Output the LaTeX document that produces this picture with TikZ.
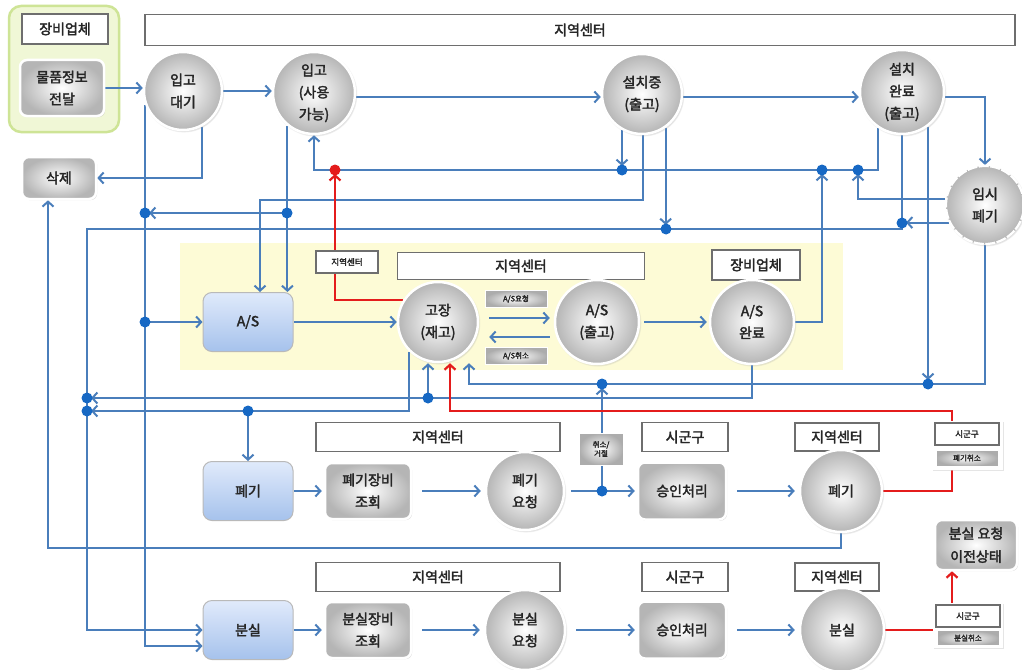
\documentclass[tikz,border=0pt]{standalone}
\usepackage{fontspec}
\newfontfamily\kr[AutoFakeBold=2.5]{Noto Sans CJK KR}
\usetikzlibrary{arrows.meta,shadows}
\newcommand\myfs[2]{\fontsize{#1}{#2}\selectfont}
\definecolor{lblue}{RGB}{74,126,187}
\definecolor{dotc}{RGB}{22,104,196}
\definecolor{lred}{RGB}{228,28,28}
\definecolor{yel}{RGB}{253,251,214}
\definecolor{grpf}{RGB}{240,247,214}
\definecolor{grpd}{RGB}{206,228,150}
\definecolor{bluet}{RGB}{224,234,251}
\definecolor{blueb}{RGB}{165,194,236}
\definecolor{hdrd}{RGB}{110,110,110}
\pgfdeclarelayer{back}
\pgfdeclarelayer{lines}
\pgfsetlayers{back,lines,main}
\tikzset{
 every node/.style={font=\kr\bfseries\myfs{14}{22}, align=center, text=black!85},
 ball/.style={circle, minimum size=#1, inner sep=0pt, shading=radial, inner color=white, outer color=gray!58, draw=white, line width=2.5pt,
   circular drop shadow={shadow xshift=0.8pt, shadow yshift=-1pt, fill=gray!70, shadow scale=1.04}},
 tball/.style={ball=#1, dash pattern=on 10pt off 1.5pt, line width=2.2pt},
 gbox/.style={rectangle, rounded corners=7pt, shading=radial, inner color=white, outer color=gray!58, draw=white, line width=2.5pt,
   drop shadow={shadow xshift=1.2pt, shadow yshift=-1.2pt, fill=gray!60}, font=\kr\bfseries\myfs{14}{22}},
 bbox/.style={rectangle, rounded corners=9pt, top color=bluet, bottom color=blueb, draw=gray!55, line width=1pt, minimum width=90pt, minimum height=59pt},
 hdr/.style={rectangle, fill=white, draw=hdrd, line width=1.6pt, inner sep=0pt},
 slbl/.style={rectangle, shading=radial, inner color=white, outer color=gray!65, draw=white, line width=1pt, font=\kr\bfseries\myfs{7.5}{9}, inner sep=1pt},
 ln/.style={draw=lblue, line width=2pt},
 arr/.style={ln, -{Straight Barb[length=5pt,width=11pt]}},
 toj/.style={arr, shorten >=4pt},
 rln/.style={draw=lred, line width=2.2pt},
 rarr/.style={rln, -{Straight Barb[length=5pt,width=11pt]}},
 jdot/.style={fill=dotc},
}
\begin{document}
\begin{tikzpicture}[x=1pt,y=-1pt]
\useasboundingbox (0,0) rectangle (1022,669);
\begin{pgfonlayer}{back}
\fill[white] (0,0) rectangle (1022,669);
\node[rectangle, rounded corners=12pt, fill=grpf, draw=grpd, line width=2.5pt, minimum width=110pt, minimum height=126pt] (grp) at (64,69) {};
\fill[yel] (180,243) rectangle (843,370);
\end{pgfonlayer}

% top part
\node[hdr, minimum width=86pt, minimum height=30pt] (hdrA) at (65,29) {장비업체};
\node[gbox, minimum width=84pt, minimum height=56pt] (mulpum) at (62,88) {물품정보\\전달};
\node[hdr, minimum width=870pt, minimum height=31pt] (hdrTop) at (580,30) {지역센터};
\node[ball=78pt] (ipgoWait) at (183,91) {입고\\대기};
\node[ball=82pt] (ipgoUse) at (314,93) {입고\\(사용\\가능)};
\node[ball=80pt] (install) at (642,94) {설치중\\(출고)};
\node[ball=84pt] (installDone) at (902,92) {설치\\완료\\(출고)};
\node[tball=78pt] (temp) at (985,205) {임시\\폐기};
\node[gbox, minimum width=74pt, minimum height=42pt] (del) at (59,178) {삭제};

% A/S area
\node[hdr, minimum width=62pt, minimum height=22pt, font=\kr\bfseries\myfs{8.5}{10}] (lblRC) at (347,262) {지역센터};
\node[hdr, minimum width=247pt, minimum height=27pt] (hdrMid) at (521,266) {지역센터};
\node[hdr, minimum width=88pt, minimum height=30pt] (hdrEq) at (756,265) {장비업체};
\node[bbox] (asBox) at (248,322) {A/S};
\node[ball=80pt] (fault) at (438,322) {고장\\(재고)};
\node[slbl, minimum width=62pt, minimum height=17pt] (asReq) at (516,299) {A/S요청};
\node[slbl, minimum width=62pt, minimum height=17pt] (asCan) at (516,356) {A/S취소};
\node[ball=84pt] (asOut) at (597,322) {A/S\\(출고)};
\node[ball=84pt] (asDone) at (752,322) {A/S\\완료};

% disposal row
\node[hdr, minimum width=244pt, minimum height=29pt] (hdr2a) at (438,437) {지역센터};
\node[slbl, minimum width=44pt, minimum height=32pt] (cancel) at (601,449) {취소/\\거절};
\node[hdr, minimum width=86pt, minimum height=29pt] (hdr2b) at (685,437) {시군구};
\node[hdr, minimum width=84pt, minimum height=28pt] (hdr2c) at (837,437) {지역센터};
\fill[white, drop shadow={shadow xshift=1pt, shadow yshift=-1pt, fill=gray!40}] (932,421) rectangle (1003,470);
\node[hdr, minimum width=64pt, minimum height=22pt, font=\kr\bfseries\myfs{8.5}{10}] (lbl2a) at (967,434) {시군구};
\node[slbl, minimum width=62pt, minimum height=16pt] (lbl2b) at (967,458) {폐기취소};
\node[bbox] (dispBox) at (248,491) {폐기};
\node[gbox, minimum width=86pt, minimum height=56pt] (dispQ) at (368,491) {폐기장비\\조회};
\node[ball=78pt] (dispReq) at (525,491) {폐기\\요청};
\node[gbox, minimum width=88pt, minimum height=57pt] (approve1) at (682,491) {승인처리};
\node[ball=82pt] (disp) at (841,491) {폐기};

% loss row
\node[gbox, minimum width=82pt, minimum height=50pt, font=\kr\bfseries\myfs{14}{23}] (prevState) at (976,545) {분실 요청\\이전상태};
\node[hdr, minimum width=244pt, minimum height=29pt] (hdr3a) at (438,577) {지역센터};
\node[hdr, minimum width=86pt, minimum height=29pt] (hdr3b) at (685,577) {시군구};
\node[hdr, minimum width=84pt, minimum height=28pt] (hdr3c) at (837,577) {지역센터};
\node[bbox] (lostBox) at (248,630) {분실};
\node[gbox, minimum width=86pt, minimum height=56pt] (lostQ) at (368,630) {분실장비\\조회};
\node[ball=80pt] (lostReq) at (525,630) {분실\\요청};
\node[gbox, minimum width=88pt, minimum height=57pt] (approve2) at (682,630) {승인처리};
\node[ball=84pt] (lost) at (842,630) {분실};
\fill[white, drop shadow={shadow xshift=1pt, shadow yshift=-1pt, fill=gray!40}] (933,603) rectangle (1003,648);
\node[hdr, minimum width=64pt, minimum height=22pt, font=\kr\bfseries\myfs{8.5}{10}] (lbl3a) at (968,616) {시군구};
\node[slbl, minimum width=62pt, minimum height=15pt] (lbl3b) at (968,638) {분실취소};

% junctions
\coordinate (j1) at (145,213);
\coordinate (j2) at (287,213);
\coordinate (j3) at (145,322);
\coordinate (jr) at (335,170);
\coordinate (j4) at (622,170);
\coordinate (j5) at (822,170);
\coordinate (j6) at (858,170);
\coordinate (j7) at (666,229);
\coordinate (j8) at (902,223);
\coordinate (j9) at (87,398);
\coordinate (j10) at (87,411);
\coordinate (j11) at (248,411);
\coordinate (j12) at (428,398);
\coordinate (j13) at (602,384);
\coordinate (j14) at (928,384);
\coordinate (j15) at (602,491);
\coordinate (k170) at (314,170);
\coordinate (k200) at (260,200);
\coordinate (k229) at (87,229);
\coordinate (k384) at (469,384);
\coordinate (r1) at (952,411);
\coordinate (k548) at (48,548);

\begin{pgfonlayer}{lines}
% top flow
\draw[arr] (mulpum.east) -- (mulpum.east -| ipgoWait.west);
\draw[arr] (ipgoWait.east) -- (ipgoWait.east -| ipgoUse.west);
\draw[arr] ([yshift=-4pt]ipgoUse.east) -- ([yshift=-4pt]ipgoUse.east -| install.west);
\draw[arr] ([yshift=-3pt]install.east) -- ([yshift=-3pt]install.east -| installDone.west);
\draw[arr] ([yshift=-5pt]installDone.east) -| (temp.north);
\draw[arr] (ipgoWait.-62) |- (del.east);
\draw[arr] (ipgoWait.200) |- ([yshift=-16pt]lostBox.west);
\draw[arr] (ipgoUse.231) -- (ipgoUse.231 |- asBox.north);
\draw[toj] (j2) -- (j1);
\draw[arr] (installDone.237.5) |- (k170) -- (ipgoUse.south);
\draw[toj] (install.241.6) -- (install.241.6 |- j4);
\draw[arr] (install.272) |- (k200) -- (k200 |- asBox.north);
\draw[toj] (install.305) -- (install.305 |- j7);
\draw[arr] (installDone.south) |- (k229) |- (lostBox.west);
\draw[toj] (temp.206.6) -- (temp.206.6 -| j8);
\draw[toj] (temp.172.4) -| (j6);
\draw[toj] (asDone.east) -| (j5);
\draw[toj] (installDone.307.6) -- (installDone.307.6 |- j14);
\draw[arr] (temp.south) |- (k384) -- (k384 |- fault.south);
\draw[toj] (j15) -- (j13);
\draw[toj] (asDone.south) |- (j9);
\draw[arr] (j12) -- (j12 |- fault.south);
\draw[toj] (fault.226.5) |- (j10);
\draw[arr] (j11) -- (dispBox.north);
\draw[arr] (disp.south) |- (k548) -- (k548 |- del.south);
% A/S
\draw[arr] (j3) -- (asBox.west);
\draw[arr] (asBox.east) -- (fault.west);
\draw[arr, shorten <=10pt, shorten >=4pt] ([yshift=4pt]fault.east) -- ([yshift=4pt]asOut.west);
\draw[arr, shorten <=4pt, shorten >=10pt] ([yshift=-15pt]asOut.west) -- ([yshift=-15pt]fault.east);
\draw[arr, shorten <=4pt, shorten >=2pt] (asOut.east) -- (asDone.west);
% disposal row
\draw[arr, shorten >=2pt] (dispBox) -- (dispQ);
\draw[arr, shorten <=10pt, shorten >=4pt] (dispQ) -- (dispReq);
\draw[arr, shorten <=6pt, shorten >=2pt] (dispReq) -- (approve1);
\draw[arr, shorten <=10pt, shorten >=4pt] (approve1) -- (disp);
% loss row
\draw[arr, shorten >=2pt] (lostBox) -- (lostQ);
\draw[arr, shorten <=10pt, shorten >=4pt] (lostQ) -- (lostReq);
\draw[arr, shorten <=10pt, shorten >=2pt] (lostReq) -- (approve2);
\draw[arr, shorten <=10pt, shorten >=4pt] (approve2) -- (lost);
% red
\draw[rarr, shorten >=4pt] (fault.148) -| (jr);
\draw[rarr] (disp.east) -| (r1) -| ([xshift=12pt]fault.south);
\draw[rln] (lost.east) -- (lost.east -| lbl3a.west);
\draw[rarr] ([xshift=-16pt]lbl3a.north) -- ([xshift=-16pt]lbl3a.north |- prevState.south);
% dots
\foreach \p in {j1,j2,j3,j4,j5,j6,j7,j8,j9,j10,j11,j12,j13,j14,j15}
  \fill[jdot] (\p) circle[radius=5.5pt];
\fill[lred] (jr) circle[radius=5.5pt];
\end{pgfonlayer}
\end{tikzpicture}
\end{document}
